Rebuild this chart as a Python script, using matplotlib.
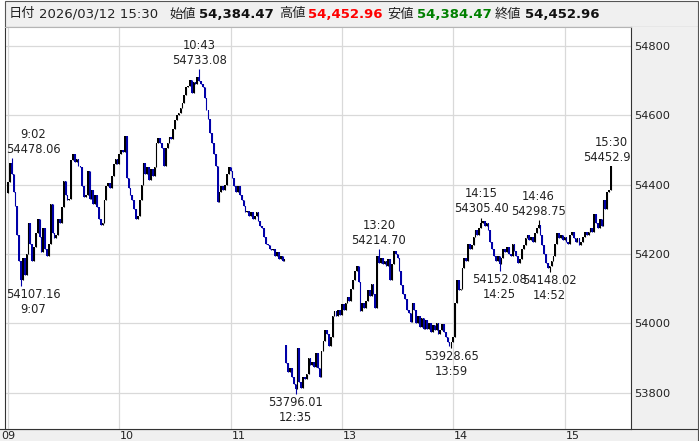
import matplotlib
matplotlib.use("Agg")
import matplotlib.pyplot as plt
from matplotlib.patches import Rectangle
import matplotlib.transforms as mtransforms

# ---------------- data ----------------
# 1-minute closes, morning session 9:00-11:29
closes_am = [
    54407, 54462, 54430, 54380, 54340, 54255, 54180, 54125, 54190, 54140,
    54200, 54290, 54230, 54180, 54220, 54260, 54300, 54250, 54205, 54275,
    54215, 54195, 54230, 54345, 54260, 54245, 54255, 54300, 54290, 54335,
    54410, 54370, 54355, 54360, 54470, 54490, 54465, 54475, 54455, 54450,
    54395, 54365, 54370, 54440, 54360, 54385, 54345, 54370, 54335, 54300,
    54285, 54290, 54355, 54395, 54405, 54390, 54425, 54460, 54475, 54460,
    54490, 54500, 54495, 54540, 54420, 54390, 54370, 54355, 54330, 54300,
    54310, 54356, 54400, 54462, 54430, 54450, 54415, 54445, 54425, 54450,
    54520, 54535, 54520, 54505, 54455, 54505, 54520, 54538, 54532, 54560,
    54587, 54600, 54607, 54620, 54636, 54660, 54682, 54685, 54702, 54665,
    54695, 54690, 54710, 54700, 54690, 54682, 54650, 54616, 54590, 54549,
    54520, 54490, 54455, 54350, 54380, 54395, 54385, 54400, 54430, 54450,
    54440, 54420, 54395, 54380, 54395, 54370, 54356, 54340, 54320, 54325,
    54310, 54320, 54300, 54310, 54320, 54295, 54280, 54275, 54250, 54230,
    54225, 54215, 54212, 54215, 54195, 54205, 54185, 54195, 54180, 54185,
]
# 1-minute closes, afternoon session 12:30-15:24, then 15:30 close
closes_pm = [
    53885, 53860, 53870, 53845, 53825, 53810, 53930, 53830, 53815, 53845,
    53840, 53855, 53900, 53880, 53890, 53875, 53915, 53870, 53845, 53920,
    53950, 53980, 53970, 53935, 53960, 54020, 54035, 54020, 54040, 54025,
    54055, 54040, 54060, 54075, 54065, 54100, 54125, 54150, 54165, 54120,
    54035, 54060, 54045, 54065, 54095, 54080, 54115, 54085, 54045, 54195,
    54175, 54190, 54170, 54180, 54165, 54185, 54125, 54170, 54210, 54200,
    54190, 54150, 54110, 54085, 54070, 54040, 54030, 54005, 54060, 54040,
    54000, 54020, 53990, 54015, 53985, 54010, 53985, 54000, 53975, 53995,
    53980, 54000, 53970, 53980, 53998, 53975, 53960, 53945, 53935, 53945,
    53960, 54058, 54125, 54095, 54100, 54160, 54190, 54180, 54230, 54215,
    54225, 54250, 54270, 54255, 54275, 54290, 54295, 54280, 54290, 54270,
    54235, 54215, 54195, 54180, 54195, 54170, 54190, 54215, 54205, 54220,
    54200, 54195, 54230, 54210, 54195, 54175, 54185, 54215, 54225, 54245,
    54255, 54240, 54250, 54235, 54260, 54275, 54285, 54255, 54225, 54200,
    54175, 54160, 54165, 54180, 54195, 54230, 54260, 54245, 54255, 54240,
    54250, 54235, 54230, 54255, 54265, 54245, 54235, 54245, 54225, 54235,
    54250, 54265, 54255, 54265, 54275, 54265, 54315, 54290, 54275, 54300,
    54280, 54355, 54330, 54380, 54384.47, 54452.96,
]
session_open_am = 54376.0
session_open_pm = 53938.0

# labelled extremes: (time, value)
high_labels = [("9:02", 54478.06), ("10:43", 54733.08), ("13:20", 54214.70),
               ("14:15", 54305.40), ("14:46", 54298.75), ("15:30", 54452.96)]
low_labels = [("9:07", 54107.16), ("12:35", 53796.01), ("13:59", 53928.65),
              ("14:25", 54152.08), ("14:52", 54148.02)]

y_ticks = [53800, 54000, 54200, 54400, 54600, 54800]
hour_labels = ["09", "10", "11", "13", "14", "15"]

header_date = "2026/03/12 15:30"
hdr_open, hdr_high, hdr_low, hdr_close = "54,384.47", "54,452.96", "54,384.47", "54,452.96"

# ---------------- build candles ----------------
times = []
for h in range(9, 12):
    for m in range(60):
        if (h, m) < (11, 30):
            times.append(f"{h}:{m:02d}")
for h in range(12, 16):
    for m in range(60):
        if (12, 30) <= (h, m) < (15, 25):
            times.append(f"{h}:{m:02d}")
times.append("15:30")

closes = closes_am + closes_pm
n = len(closes)
opens = []
for i in range(n):
    if i == 0:
        opens.append(session_open_am)
    elif i == len(closes_am):
        opens.append(session_open_pm)
    else:
        opens.append(closes[i - 1])
highs = [max(o, c) for o, c in zip(opens, closes)]
lows = [min(o, c) for o, c in zip(opens, closes)]
for t, v in high_labels:
    highs[times.index(t)] = v
for t, v in low_labels:
    lows[times.index(t)] = v

# ---------------- figure ----------------
W, H = 699, 441
fig = plt.figure(figsize=(W / 100, H / 100), dpi=100)
fig.patch.set_facecolor("white")

bg = fig.add_axes([0, 0, 1, 1], zorder=0)
bg.set_xlim(0, W)
bg.set_ylim(H, 0)
bg.axis("off")
GRAY = "#f0f0f0"
bg.add_patch(Rectangle((5, 0.5), 693, 26.5, fc=GRAY, ec="#555555", lw=0.8))
bg.add_patch(Rectangle((631, 27), 68, 402, fc=GRAY, ec="none"))
bg.add_patch(Rectangle((0, 429), 699, 12, fc=GRAY, ec="none"))
bg.plot([0, 699], [429, 429], color="#333333", lw=0.8)
bg.plot([698, 698], [27, 441], color="#555555", lw=0.8)

hdr_font = ["DejaVu Sans", "Noto Sans CJK JP"]
hdr_items = [
    (9, "日付", "normal", "#222222"),
    (39, header_date, "normal", "#222222"),
    (169, "始値", "normal", "#222222"),
    (199, hdr_open, "bold", "#111111"),
    (279, "高値", "normal", "#222222"),
    (308, hdr_high, "bold", "#ff0000"),
    (387, "安値", "normal", "#222222"),
    (417, hdr_low, "bold", "#008000"),
    (495, "終値", "normal", "#222222"),
    (525, hdr_close, "bold", "#111111"),
]
for x, s, wgt, col in hdr_items:
    bg.text(x, 14, s, fontsize=9.5, fontweight=wgt, color=col,
            family=hdr_font, ha="left", va="center")

ax = fig.add_axes([5 / W, (H - 429) / H, (631 - 5) / W, (429 - 27) / H], zorder=1)
ax.set_facecolor("white")
px = 1.855
ax.set_xlim(-3 / px, 623 / px)
ax.set_ylim(53695.3, 54855.1)

UP, DOWN = "#000000", "#0000a8"
xs = list(range(n))
cols = [UP if c >= o else DOWN for o, c in zip(opens, closes)]
ax.vlines(xs, lows, highs, colors=cols, lw=0.8, zorder=3)
bottoms = [min(o, c) for o, c in zip(opens, closes)]
heights = [max(abs(c - o), 2.5) for o, c in zip(opens, closes)]
ax.bar(xs, heights, bottom=bottoms, width=0.9, color=cols, lw=0, zorder=3)

hour_pos = [times.index(t) for t in ["9:00", "10:00", "11:00", "13:00", "14:00", "15:00"]]
ax.set_xticks(hour_pos)
ax.set_xticklabels(hour_labels, fontsize=8, color="#222222", ha="left")
ax.set_yticks(y_ticks)
ax.set_yticklabels([str(v) for v in y_ticks], fontsize=8.2, color="#222222")
ax.yaxis.tick_right()
ax.tick_params(axis="both", length=0)
ax.tick_params(axis="x", pad=1.2)
ax.tick_params(axis="y", pad=2.5)
ax.grid(True, color="#d9d9d9", lw=0.9, zorder=0)
ax.set_axisbelow(True)
for lbl in ax.get_xticklabels():
    lbl.set_transform(lbl.get_transform() + mtransforms.ScaledTranslation(1 / 100, 0, fig.dpi_scale_trans))
first = ax.get_xticklabels()[0]
first.set_transform(first.get_transform() + mtransforms.ScaledTranslation(-8 / 100, 0, fig.dpi_scale_trans))

for side in ["left", "right", "bottom"]:
    ax.spines[side].set_color("#333333")
    ax.spines[side].set_linewidth(0.8)
ax.spines["top"].set_color("#b5b5b5")
ax.spines["top"].set_linewidth(0.8)

anns = []
for t, v in high_labels:
    a = ax.annotate(f"{t}\n{v:.2f}", xy=(times.index(t), v), xytext=(0, 1.5),
                    textcoords="offset points", ha="center", va="bottom",
                    multialignment="center", fontsize=8.3, color="#222222",
                    annotation_clip=False, zorder=5)
    anns.append(a)
for t, v in low_labels:
    a = ax.annotate(f"{v:.2f}\n{t}", xy=(times.index(t), v), xytext=(0, -1.5),
                    textcoords="offset points", ha="center", va="top",
                    multialignment="center", fontsize=8.3, color="#222222",
                    annotation_clip=False, zorder=5)
    anns.append(a)
for a in anns:
    a.set_clip_on(True)
    a.set_clip_box(ax.bbox)
    a.set_clip_path(None)

fig.canvas.draw()
r = fig.canvas.get_renderer()
axbb = ax.get_window_extent(r)
for a in anns:
    bb = a.get_window_extent(r)
    if bb.x0 < axbb.x0 + 1:
        dx = (axbb.x0 + 1 - bb.x0) * 72 / fig.dpi
        x0, y0 = a.xyann
        a.xyann = (x0 + dx, y0)

fig.savefig("out.png", dpi=100, facecolor=fig.get_facecolor())
